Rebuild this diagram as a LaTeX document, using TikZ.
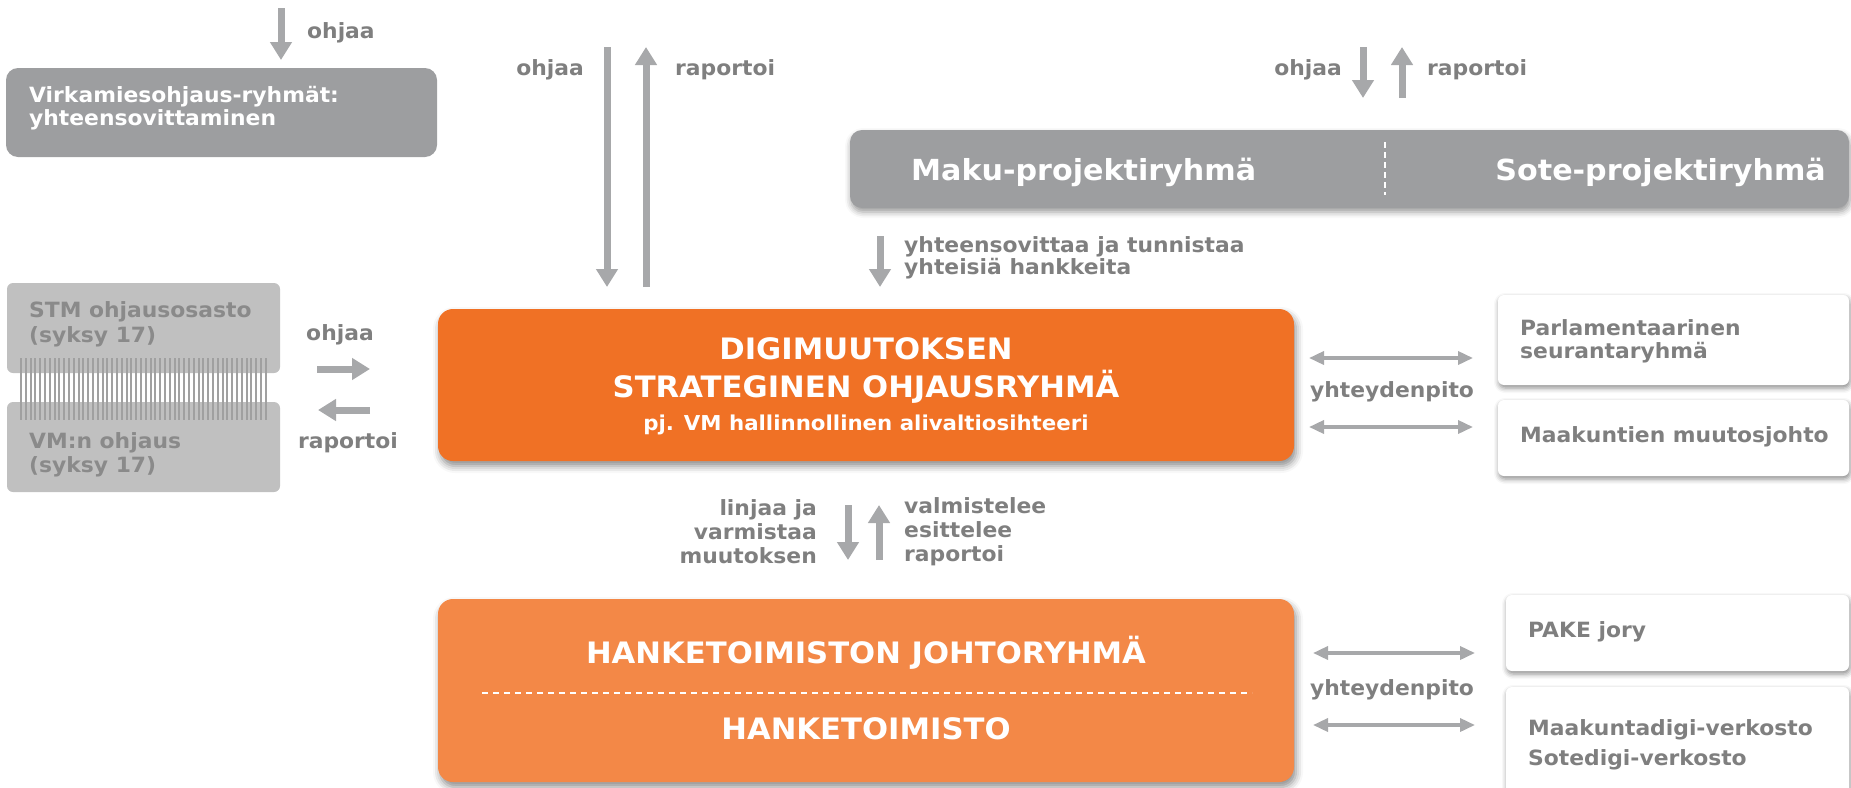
\documentclass[tikz,border=0pt]{standalone}
\usepackage{fontspec}
\setmainfont{DejaVu Sans}[FakeStretch=1.04]
\usetikzlibrary{arrows.meta,shadows.blur}
\definecolor{orA}{HTML}{F07125}
\definecolor{orB}{HTML}{F38847}
\definecolor{gbox}{HTML}{9D9EA0}
\definecolor{lbox}{HTML}{C0C0C0}
\definecolor{arr}{HTML}{A7A8AA}
\definecolor{txt}{HTML}{7F7F7F}
\definecolor{ltxt}{HTML}{8A8A8A}
\definecolor{hatchc}{HTML}{A0A0A0}
\begin{document}
\begin{tikzpicture}[x=1pt,y=-1pt,
  bigarrow/.style={draw=arr, line width=7pt, -{Triangle[width=21pt,length=18pt]}},
  duoarrow/.style={draw=arr, line width=3.5pt, {Triangle[width=13pt,length=15pt]}-{Triangle[width=13pt,length=15pt]}},
  lbl/.style={text=txt, font=\fontsize{21}{23}\selectfont\bfseries, inner sep=0},
  boxtxt/.style={font=\fontsize{21}{23}\selectfont\bfseries, inner sep=0},
  greybox/.style={fill=gbox, rounded corners=12pt, inner sep=0, minimum width=#1},
  lightbox/.style={fill=lbox, rounded corners=6pt, inner sep=0, minimum width=273pt, minimum height=90pt},
  whitebox/.style={fill=white, rounded corners=6pt, inner sep=0, minimum width=#1,
     blur shadow={shadow xshift=1pt, shadow yshift=-3pt, shadow blur radius=5pt, shadow opacity=45}},
  orbox/.style={fill=#1, rounded corners=15pt, inner sep=0, minimum width=856pt,
     blur shadow={shadow xshift=2pt, shadow yshift=-5pt, shadow blur radius=7pt, shadow opacity=45}},
  hatch/.style={draw=hatchc, line width=2pt},
  sep/.style={draw=white, line width=1.6pt, dash pattern=on 6pt off 5pt}
]
\useasboundingbox (0,0) rectangle (1851,787);
\clip (0,0) rectangle (1851,787);

% ---------- boxes ----------
\node[greybox=431pt, minimum height=89pt] (virk) at (221.5,112.5) {};
\node[boxtxt, text=white, align=left, anchor=west] (virkt) at (29,108.5) {Virkamiesohjaus-ryhmät:\\yhteensovittaminen};

\node[greybox=999pt, minimum height=78pt,
      blur shadow={shadow xshift=1pt, shadow yshift=-4pt, shadow blur radius=6pt, shadow opacity=40}] (maku) at (1349.5,169) {};
\node[font=\fontsize{29}{32}\selectfont\bfseries, text=white, inner sep=0, anchor=west] (makut) at (911,172) {Maku-projektiryhmä};
\node[font=\fontsize{29}{32}\selectfont\bfseries, text=white, inner sep=0, anchor=east] (sotet) at (1826,172) {Sote-projektiryhmä};
\coordinate (sepT) at (1385,142);
\coordinate (sepB) at (1385,195);
\draw[draw=white, line width=1.5pt, dash pattern=on 6pt off 4pt] (sepT) -- (sepB);

\node[lightbox] (stm) at (143.5,328) {};
\node[lightbox] (vm) at (143.5,447) {};
\foreach \i in {0,...,51} \draw[hatch] ({21+\i*4.8},358) -- ({21+\i*4.8},420);
\node[boxtxt, text=ltxt, align=left, anchor=west, font=\fontsize{21}{25}\selectfont\bfseries] (stmt) at (29,324.5) {STM ohjausosasto\\(syksy 17)};
\node[boxtxt, text=ltxt, align=left, anchor=west, font=\fontsize{21}{24}\selectfont\bfseries] (vmt) at (29,455) {VM:n ohjaus\\(syksy 17)};

\node[orbox=orA, minimum height=152pt] (dsr) at (866,385) {};
\node[text=white, align=center, inner sep=0, font=\fontsize{29.5}{38}\selectfont\bfseries] (dsrt) at (866,386)
  {DIGIMUUTOKSEN\\STRATEGINEN OHJAUSRYHMÄ\\[-5pt]{\fontsize{20.5}{24}\selectfont pj. VM hallinnollinen alivaltiosihteeri}};

\node[orbox=orB, minimum height=183pt] (hto) at (866,690.5) {};
\node[text=white, inner sep=0, font=\fontsize{29.5}{32}\selectfont\bfseries] (htjt) at (866,653) {HANKETOIMISTON JOHTORYHMÄ};
\node[text=white, inner sep=0, font=\fontsize{29.5}{32}\selectfont\bfseries] (htot) at (866,729) {HANKETOIMISTO};
\coordinate (dashL) at (482,693);
\coordinate (dashR) at (1252,693);
\draw[sep] (dashL) -- (dashR);

\node[whitebox=351pt, minimum height=90pt] (parl) at (1673.5,340) {};
\node[boxtxt, text=txt, align=left, anchor=west] (parlt) at (1520,341.5) {Parlamentaarinen\\seurantaryhmä};
\node[whitebox=351pt, minimum height=76pt] (maak) at (1673.5,438) {};
\node[boxtxt, text=txt, anchor=west] (maakt) at (1520,437) {Maakuntien muutosjohto};
\node[whitebox=343pt, minimum height=76pt] (pake) at (1677.5,633) {};
\node[boxtxt, text=txt, anchor=west] (paket) at (1528,632) {PAKE jory};
\node[whitebox=343pt, minimum height=123pt] (verk) at (1677.5,748.5) {};
\node[boxtxt, text=txt, align=left, anchor=west, font=\fontsize{21}{30}\selectfont\bfseries] (verkt) at (1528,745) {Maakuntadigi-verkosto\\Sotedigi-verkosto};

% ---------- arrow end points ----------
\coordinate (a1s) at (281,8);    \coordinate (a1e) at (281,60);
\coordinate (a2s) at (607,47);   \coordinate (a2e) at (607,287);
\coordinate (a3s) at (646,287);  \coordinate (a3e) at (646,47);
\coordinate (a4s) at (1363,47);  \coordinate (a4e) at (1363,98);
\coordinate (a5s) at (1402,98);  \coordinate (a5e) at (1402,47);
\coordinate (a6s) at (880,236);  \coordinate (a6e) at (880,287);
\coordinate (a7s) at (317,369);  \coordinate (a7e) at (370,369);
\coordinate (a8s) at (370,410);  \coordinate (a8e) at (318,410);
\coordinate (a9s) at (848,505);  \coordinate (a9e) at (848,560);
\coordinate (a10s) at (879,560); \coordinate (a10e) at (879,505);
\coordinate (d1s) at (1309,358); \coordinate (d1e) at (1473,358);
\coordinate (d2s) at (1309,427); \coordinate (d2e) at (1473,427);
\coordinate (d3s) at (1313,653); \coordinate (d3e) at (1475,653);
\coordinate (d4s) at (1313,725); \coordinate (d4e) at (1475,725);

\draw[bigarrow] (a1s) -- (a1e);
\draw[bigarrow] (a2s) -- (a2e);
\draw[bigarrow] (a3s) -- (a3e);
\draw[bigarrow] (a4s) -- (a4e);
\draw[bigarrow] (a5s) -- (a5e);
\draw[bigarrow] (a6s) -- (a6e);
\draw[bigarrow] (a7s) -- (a7e);
\draw[bigarrow] (a8s) -- (a8e);
\draw[bigarrow] (a9s) -- (a9e);
\draw[bigarrow] (a10s) -- (a10e);
\draw[duoarrow] (d1s) -- (d1e);
\draw[duoarrow] (d2s) -- (d2e);
\draw[duoarrow] (d3s) -- (d3e);
\draw[duoarrow] (d4s) -- (d4e);

% ---------- labels ----------
\node[lbl, anchor=west] (l1) at (307,33) {ohjaa};
\node[lbl, anchor=east] (l2) at (584,70) {ohjaa};
\node[lbl, anchor=west] (l3) at (675,70) {raportoi};
\node[lbl, anchor=east] (l4) at (1342,70) {ohjaa};
\node[lbl, anchor=west] (l5) at (1427,70) {raportoi};
\node[lbl, anchor=west, align=left, font=\fontsize{21}{22}\selectfont\bfseries] (l6) at (904,258) {yhteensovittaa ja tunnistaa\\yhteisiä hankkeita};
\node[lbl] (l7) at (340,335) {ohjaa};
\node[lbl] (l8) at (348,443) {raportoi};
\node[lbl] (l9) at (1392,392) {yhteydenpito};
\node[lbl] (l10) at (1392,690) {yhteydenpito};
\node[lbl, anchor=east, align=right, font=\fontsize{21}{24}\selectfont\bfseries] (l11) at (817,532) {linjaa ja\\varmistaa\\muutoksen};
\node[lbl, anchor=west, align=left, font=\fontsize{21}{24}\selectfont\bfseries] (l12) at (904,532) {valmistelee\\esittelee\\raportoi};
\end{tikzpicture}
\end{document}
